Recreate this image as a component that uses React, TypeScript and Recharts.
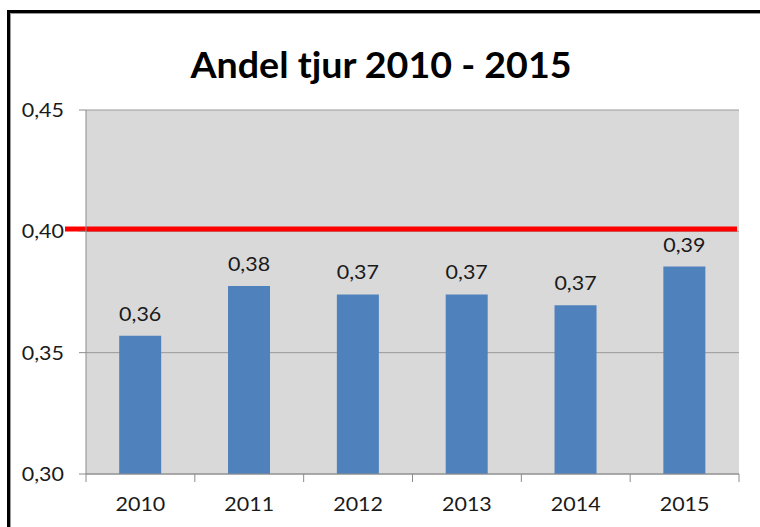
import React from 'react';
import { BarChart, Bar, XAxis, YAxis, CartesianGrid, ReferenceLine, LabelList } from 'recharts';

const years = ['2010', '2011', '2012', '2013', '2014', '2015'];
const shares = [0.357, 0.3775, 0.374, 0.374, 0.3695, 0.3855];
const yTicks = [0.3, 0.35, 0.4, 0.45];
const threshold = 0.401;
const title = 'Andel tjur 2010 - 2015';

const data = years.map((y, i) => ({ year: y, share: shares[i] }));

const FONT = 'Lato, "Open Sans", sans-serif';
const fmt = (v: number) => v.toFixed(2).replace('.', ',');
const SX = 1.13;
const FS = 19;

const CAT_W = (760 - 86 - 21) / years.length;

const Stretch = ({ x, y, anchor, children, size = FS, weight = 400, sx = SX }: any) => (
  <g transform={`translate(${x},${y}) scale(${sx},1)`}>
    <text x={0} y={0} textAnchor={anchor} fontFamily={FONT} fontSize={size} fontWeight={weight} fill="#1a1a1a">
      {children}
    </text>
  </g>
);

const XTick = (props: any) => {
  const { x, y, payload, index } = props;
  const left = x - CAT_W / 2;
  const right = x + CAT_W / 2;
  return (
    <g>
      <line x1={left} y1={y - 8} x2={left} y2={y} stroke="#8c8c8c" strokeWidth={1} />
      {index === years.length - 1 && (
        <line x1={right} y1={y - 8} x2={right} y2={y} stroke="#8c8c8c" strokeWidth={1} />
      )}
      <Stretch x={x} y={y + 29} anchor="middle">{payload.value}</Stretch>
    </g>
  );
};

const YTick = (props: any) => {
  const { x, y, payload } = props;
  return <Stretch x={x} y={y + 7} anchor="end">{fmt(payload.value)}</Stretch>;
};

const BarLabel = (props: any) => {
  const { x, y, width, value } = props;
  return <Stretch x={x + width / 2} y={y - 15} anchor="middle">{fmt(Number(value))}</Stretch>;
};

const RedLine = (props: any) => {
  const { x1, y1, x2, y2 } = props;
  return <line x1={x1 - 21} y1={y1} x2={x2 - 2} y2={y2} stroke="#ff0000" strokeWidth={5} />;
};

export default function App() {
  return (
    <div style={{ position: 'absolute', left: 0, top: 0, width: 760, height: 527, background: '#fff', overflow: 'hidden' }}>
      <div
        style={{
          position: 'absolute',
          left: 7,
          top: 10,
          width: 800,
          height: 600,
          borderLeft: '3px solid #000',
          borderTop: '3px solid #000',
          boxShadow: 'inset 1px 1px 0 #9a9a9a',
        }}
      />
      <div style={{ position: 'absolute', left: 0, top: 0 }}>
        <BarChart
          width={760}
          height={527}
          data={data}
          margin={{ top: 110, right: 21, left: 0, bottom: 0 }}
          barCategoryGap="30.5%"
        >
          <g transform="translate(381,78) scale(1.045,1)">
            <text x={0} y={0} textAnchor="middle" fontFamily={FONT} fontWeight={700} fontSize={36} fill="#000">
              {title}
            </text>
          </g>
          <CartesianGrid fill="#d9d9d9" vertical={false} stroke="#9a9a9a" />
          <XAxis
            dataKey="year"
            height={53}
            tickLine={false}
            axisLine={{ stroke: '#8c8c8c' }}
            tick={<XTick />}
            interval={0}
          />
          <YAxis
            width={86}
            domain={[0.3, 0.45]}
            ticks={yTicks}
            tickFormatter={fmt}
            tickSize={7}
            tickMargin={15}
            axisLine={{ stroke: '#8c8c8c' }}
            tickLine={{ stroke: '#8c8c8c' }}
            tick={<YTick />}
          />
          <Bar dataKey="share" fill="#4f81bd" isAnimationActive={false}>
            <LabelList dataKey="share" content={<BarLabel />} />
          </Bar>
          <ReferenceLine y={threshold} shape={<RedLine />} />
        </BarChart>
      </div>
    </div>
  );
}
